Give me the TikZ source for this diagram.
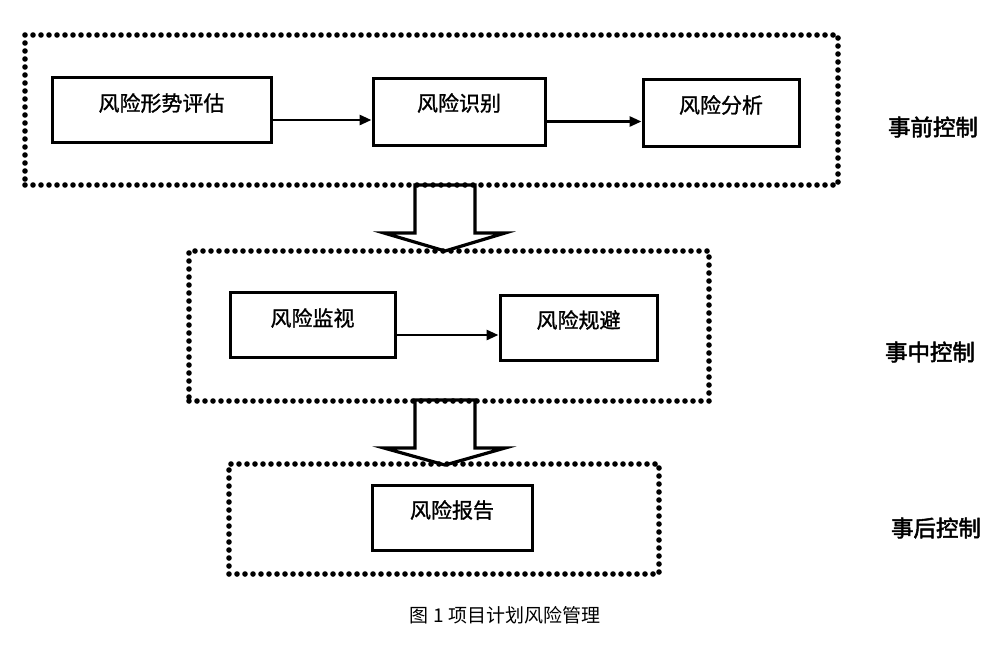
\documentclass[tikz,border=0pt]{standalone}
\usepackage{fontspec}
\usetikzlibrary{arrows.meta,calc}
\newfontfamily\cjk[FakeBold=1.2]{Noto Sans CJK SC}
\newfontfamily\cjkb[FakeBold=2.2]{Noto Sans CJK SC}
\newfontfamily\cjkl{Noto Sans CJK SC}
\begin{document}
\begin{tikzpicture}[x=1pt,y=-1pt,
  frame/.style={draw, line width=5.6pt, line cap=round, dash pattern=on 0pt off 8pt, inner sep=0pt},
  box/.style={draw, line width=3pt, inner sep=0pt, font=\cjk\fontsize{21}{21}\selectfont, text height=19pt},
  conn/.style={draw, line width=2.8pt, -{Triangle[length=12pt,width=10pt]}},
  hollow/.style={draw, line width=3.2pt, fill=white, line join=miter},
  side/.style={font=\cjkb\fontsize{22.5}{22.5}\selectfont, inner sep=0pt},
  captiontext/.style={font=\cjkl\fontsize{19}{19}\selectfont, inner sep=0pt}]
\useasboundingbox (0,0) rectangle (1000,649);
% hollow arrows (drawn first, frames on top)
\draw[hollow] (415,185) -- (415,233) -- (384,233) -- (445,251) -- (505,233) -- (475,233) -- (475,185) -- cycle;
\draw[hollow] (415,400) -- (415,448) -- (384,448) -- (445,465) -- (505,448) -- (475,448) -- (475,400) -- cycle;
% frames
\node[frame, minimum width=813pt, minimum height=150pt] (f1) at (431.5,110) {};
\node[frame, minimum width=520pt, minimum height=150pt] (f2) at (449,326) {};
\node[frame, minimum width=430pt, minimum height=110pt] (f3) at (444,519) {};
% boxes
\node[box, minimum width=219pt, minimum height=65pt, text depth=16pt] (a) at (161.5,109.5) {风险形势评估};
\node[box, minimum width=172pt, minimum height=67pt, text depth=20pt] (b) at (459,111.5) {风险识别};
\node[box, minimum width=156pt, minimum height=67pt, text depth=18pt] (c) at (721,112.5) {风险分析};
\node[box, minimum width=165pt, minimum height=65pt, text depth=16pt] (d) at (312.5,324.5) {风险监视};
\node[box, minimum width=157pt, minimum height=65pt, text depth=18pt] (e) at (578.5,327.5) {风险规避};
\node[box, minimum width=160pt, minimum height=65pt, text depth=18pt] (f) at (452,517.5) {风险报告};
% connectors
\draw[conn] ([yshift=-10.5pt]a.east) -- ([yshift=-10.5pt]a.east -| b.west);
\draw[conn] ([yshift=-10pt]b.east) -- ([yshift=-10pt]b.east -| c.west);
\draw[conn] ([yshift=-10.5pt]d.east) -- ([yshift=-10.5pt]d.east -| e.west);
% side labels
\node[side] (l1) at (933,127) {事前控制};
\node[side] (l2) at (930,352) {事中控制};
\node[side] (l3) at (936,528) {事后控制};
% caption
\node[captiontext] (cp) at (505,615) {图 1 项目计划风险管理};
\end{tikzpicture}
\end{document}
